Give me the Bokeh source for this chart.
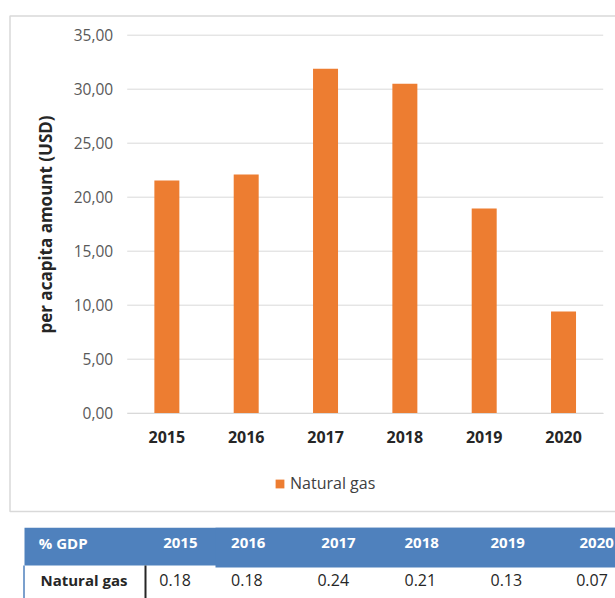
from bokeh.plotting import figure
from bokeh.models import Range1d, FixedTicker, Legend, LegendItem
from bokeh.embed import file_html
from bokeh.resources import INLINE
from bokeh.core.properties import value

# ---- data ----
years = ["2015", "2016", "2017", "2018", "2019", "2020"]
per_capita = [21.55, 22.1, 31.9, 30.5, 18.95, 9.42]
y_ticks = [0, 5, 10, 15, 20, 25, 30, 35]
series_name = "Natural gas"
y_title = "per acapita amount (USD)"
table_header = "% GDP"
table_row_label = "Natural gas"
gdp_share = ["0.18", "0.18", "0.24", "0.21", "0.13", "0.07"]

# ---- style / layout ----
FONT = "Open Sans"
W, H = 615, 598
ORANGE = "#ED7D31"
BLUE = "#4F81BD"
GRID = "#D9D9D9"
TXT = "#262626"

# plot-area placement on the canvas (pixels)
PA_L, PA_R, PA_T, PA_B = 126.7, 602.7, 34.7, 412.7
n = len(years)
x_unit = (PA_R - PA_L) / n
y_unit = (PA_B - PA_T) / 35.0
x_range = Range1d(-PA_L / x_unit, (W - PA_L) / x_unit)
y_range = Range1d(-(H - PA_B) / y_unit, 35 + PA_T / y_unit)

p = figure(width=W, height=H, x_range=x_range, y_range=y_range,
           output_backend="svg", toolbar_location=None, min_border=0)
p.extra_x_ranges = {"px": Range1d(0, W)}
p.extra_y_ranges = {"px": Range1d(H, 0)}
p.outline_line_color = None
p.background_fill_color = "white"
p.border_fill_color = "white"
p.xgrid.visible = False
p.ygrid.visible = False

# chart container border
p.quad(left=[9.5], right=[W + 30], top=[15.5], bottom=[511],
       x_range_name="px", y_range_name="px",
       fill_color=None, line_color=GRID, line_width=1.5)

# horizontal gridlines limited to the plot area
p.segment(x0=[0] * len(y_ticks), x1=[n] * len(y_ticks), y0=y_ticks, y1=y_ticks,
          line_color=GRID, line_width=1)

xpos = [i + 0.5 for i in range(n)]
bars = p.vbar(x=xpos, top=per_capita, width=0.315, fill_color=ORANGE, line_color=None)

yax = p.yaxis[0]
yax.fixed_location = 0
yax.bounds = (0, 35)
yax.ticker = FixedTicker(ticks=y_ticks)
yax.major_label_overrides = {t: f"{t:.2f}".replace(".", ",") for t in y_ticks}
yax.axis_line_color = None
yax.major_tick_line_color = None
yax.minor_tick_line_color = None
yax.major_tick_out = 0
yax.major_tick_in = 0
yax.major_label_standoff = 14
yax.major_label_text_font = FONT
yax.major_label_text_font_size = "15.5px"
yax.major_label_text_color = "#595959"
yax.axis_label = y_title
yax.axis_label_text_font = FONT
yax.axis_label_text_font_size = "17px"
yax.axis_label_text_font_style = "bold"
yax.axis_label_text_color = TXT
yax.axis_label_standoff = 14

xax = p.xaxis[0]
xax.fixed_location = 0
xax.bounds = (0, n)
xax.ticker = FixedTicker(ticks=xpos)
xax.major_label_overrides = {x: y for x, y in zip(xpos, years)}
xax.axis_line_color = GRID
xax.axis_line_width = 1
xax.major_tick_line_color = None
xax.minor_tick_line_color = None
xax.major_tick_out = 0
xax.major_tick_in = 0
xax.major_label_standoff = 18
xax.major_label_text_font = FONT
xax.major_label_text_font_size = "16px"
xax.major_label_text_font_style = "bold"
xax.major_label_text_color = TXT

legend = Legend(items=[LegendItem(label=series_name, renderers=[bars])],
                location=(274, H - 494), orientation="horizontal",
                glyph_width=11, glyph_height=11, label_standoff=5,
                padding=0, margin=0, spacing=0, label_height=11,
                border_line_color=None, background_fill_alpha=0,
                label_text_font=FONT, label_text_font_size="16px",
                label_text_color="#404040")
p.add_layout(legend)

# ---- data table below the chart ----
p.quad(left=[24, 215], right=[W + 30, W + 30], top=[527.3, 527.3], bottom=[565, 567],
       x_range_name="px", y_range_name="px", fill_color=BLUE, line_color=None)
p.segment(x0=[23.5, 145], y0=[565, 565], x1=[23.5, 145], y1=[H + 5, H + 5],
          x_range_name="px", y_range_name="px",
          line_color=[BLUE, TXT], line_width=[1.5, 2])

header_x = [162.7, 230.6, 320.8, 404, 490, 579]
value_x = [158.8, 230.6, 316.9, 404, 490, 575.7]
HEAD_Y = 542.5
ROW_Y = 579

p.text(x=[38.3], y=[HEAD_Y], text=[table_header], x_range_name="px", y_range_name="px",
       text_font=value(FONT), text_font_style="bold", text_font_size="15px",
       text_color="white", text_align="left", text_baseline="middle")
p.text(x=header_x, y=[HEAD_Y] * n, text=years, x_range_name="px", y_range_name="px",
       text_font=value(FONT), text_font_style="bold", text_font_size="15px",
       text_color="white", text_align="left", text_baseline="middle")
p.text(x=[40], y=[ROW_Y], text=[table_row_label], x_range_name="px", y_range_name="px",
       text_font=value(FONT), text_font_style="bold", text_font_size="15px",
       text_color=TXT, text_align="left", text_baseline="middle")
p.text(x=value_x, y=[ROW_Y] * n, text=gdp_share, x_range_name="px", y_range_name="px",
       text_font=value(FONT), text_font_size="16px",
       text_color=TXT, text_align="left", text_baseline="middle")

open("out.html", "w").write(file_html(p, INLINE))
